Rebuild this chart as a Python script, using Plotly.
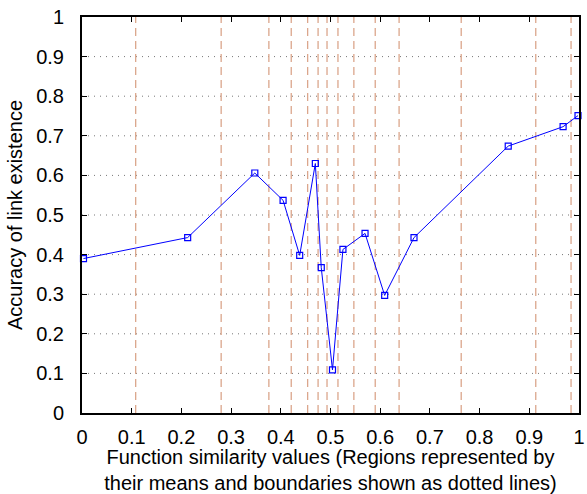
import plotly.graph_objects as go

# Region means (x) and accuracy (y)
region_means = [0.003, 0.2126, 0.3477, 0.4046, 0.438, 0.4695, 0.4814, 0.504,
                0.525, 0.5695, 0.609, 0.668, 0.8576, 0.968, 0.998]
accuracy = [0.390, 0.443, 0.606, 0.537, 0.398, 0.630, 0.367, 0.109,
            0.413, 0.4535, 0.297, 0.443, 0.674, 0.723, 0.751]

# Region boundaries (dashed vertical lines)
boundaries = [0.108, 0.280, 0.376, 0.421, 0.454, 0.475, 0.493, 0.515,
              0.547, 0.590, 0.638, 0.763, 0.913, 0.984]

x_ticks = [0, 0.1, 0.2, 0.3, 0.4, 0.5, 0.6, 0.7, 0.8, 0.9, 1]
x_tick_labels = ["0", "0.1", "0.2", "0.3", "0.4", "0.5", "0.6", "0.7", "0.8", "0.9", "1"]
y_ticks = [0, 0.1, 0.2, 0.3, 0.4, 0.5, 0.6, 0.7, 0.8, 0.9, 1]
y_tick_labels = ["0", "0.1", "0.2", "0.3", "0.4", "0.5", "0.6", "0.7", "0.8", "0.9", "1"]

FONT = "Liberation Sans"

fig = go.Figure()

# dotted horizontal grid lines
grid_x, grid_y = [], []
for yv in y_ticks[1:-1]:
    grid_x += [0, 1, None]
    grid_y += [yv, yv, None]
fig.add_trace(go.Scatter(x=grid_x, y=grid_y, mode="lines",
                         line=dict(color="#777777", width=1, dash="1px,5px"),
                         hoverinfo="skip", showlegend=False))

# dashed vertical boundary lines
bx, by = [], []
for b in boundaries:
    bx += [b, b, None]
    by += [0, 1, None]
fig.add_trace(go.Scatter(x=bx, y=by, mode="lines",
                         line=dict(color="#dba68c", width=1.3, dash="8px,5px"),
                         hoverinfo="skip", showlegend=False))

fig.add_trace(go.Scatter(x=region_means, y=accuracy, mode="lines+markers",
                         line=dict(color="#0000ff", width=1),
                         marker=dict(symbol="square-open", size=6,
                                     color="#0000ff", line=dict(width=1.2)),
                         showlegend=False, cliponaxis=False))

axis_common = dict(showgrid=False, zeroline=False, showline=True,
                   linecolor="black", linewidth=2, mirror="ticks",
                   ticks="inside", ticklen=5, tickwidth=1, tickcolor="black",
                   ticklabeloverflow="allow",
                   tickfont=dict(family=FONT, size=20, color="black"))

fig.update_xaxes(range=[0, 1], tickvals=x_ticks, ticktext=x_tick_labels,
                 title=dict(text="Function similarity values (Regions represented by<br>their means and boundaries shown as dotted lines)",
                            font=dict(family=FONT, size=20, color="black"),
                            standoff=3),
                 ticklabelstandoff=5,
                 **axis_common)
fig.update_yaxes(range=[0, 1], tickvals=y_ticks, ticktext=y_tick_labels,
                 title=dict(text="Accuracy of link existence",
                            font=dict(family=FONT, size=20, color="black"),
                            standoff=8),
                 ticklabelstandoff=12,
                 **axis_common)

fig.update_layout(width=587, height=494,
                  margin=dict(l=82, r=2, t=17, b=81),
                  plot_bgcolor="white", paper_bgcolor="white",
                  font=dict(family=FONT, color="black"))

fig.write_html("out.html")
